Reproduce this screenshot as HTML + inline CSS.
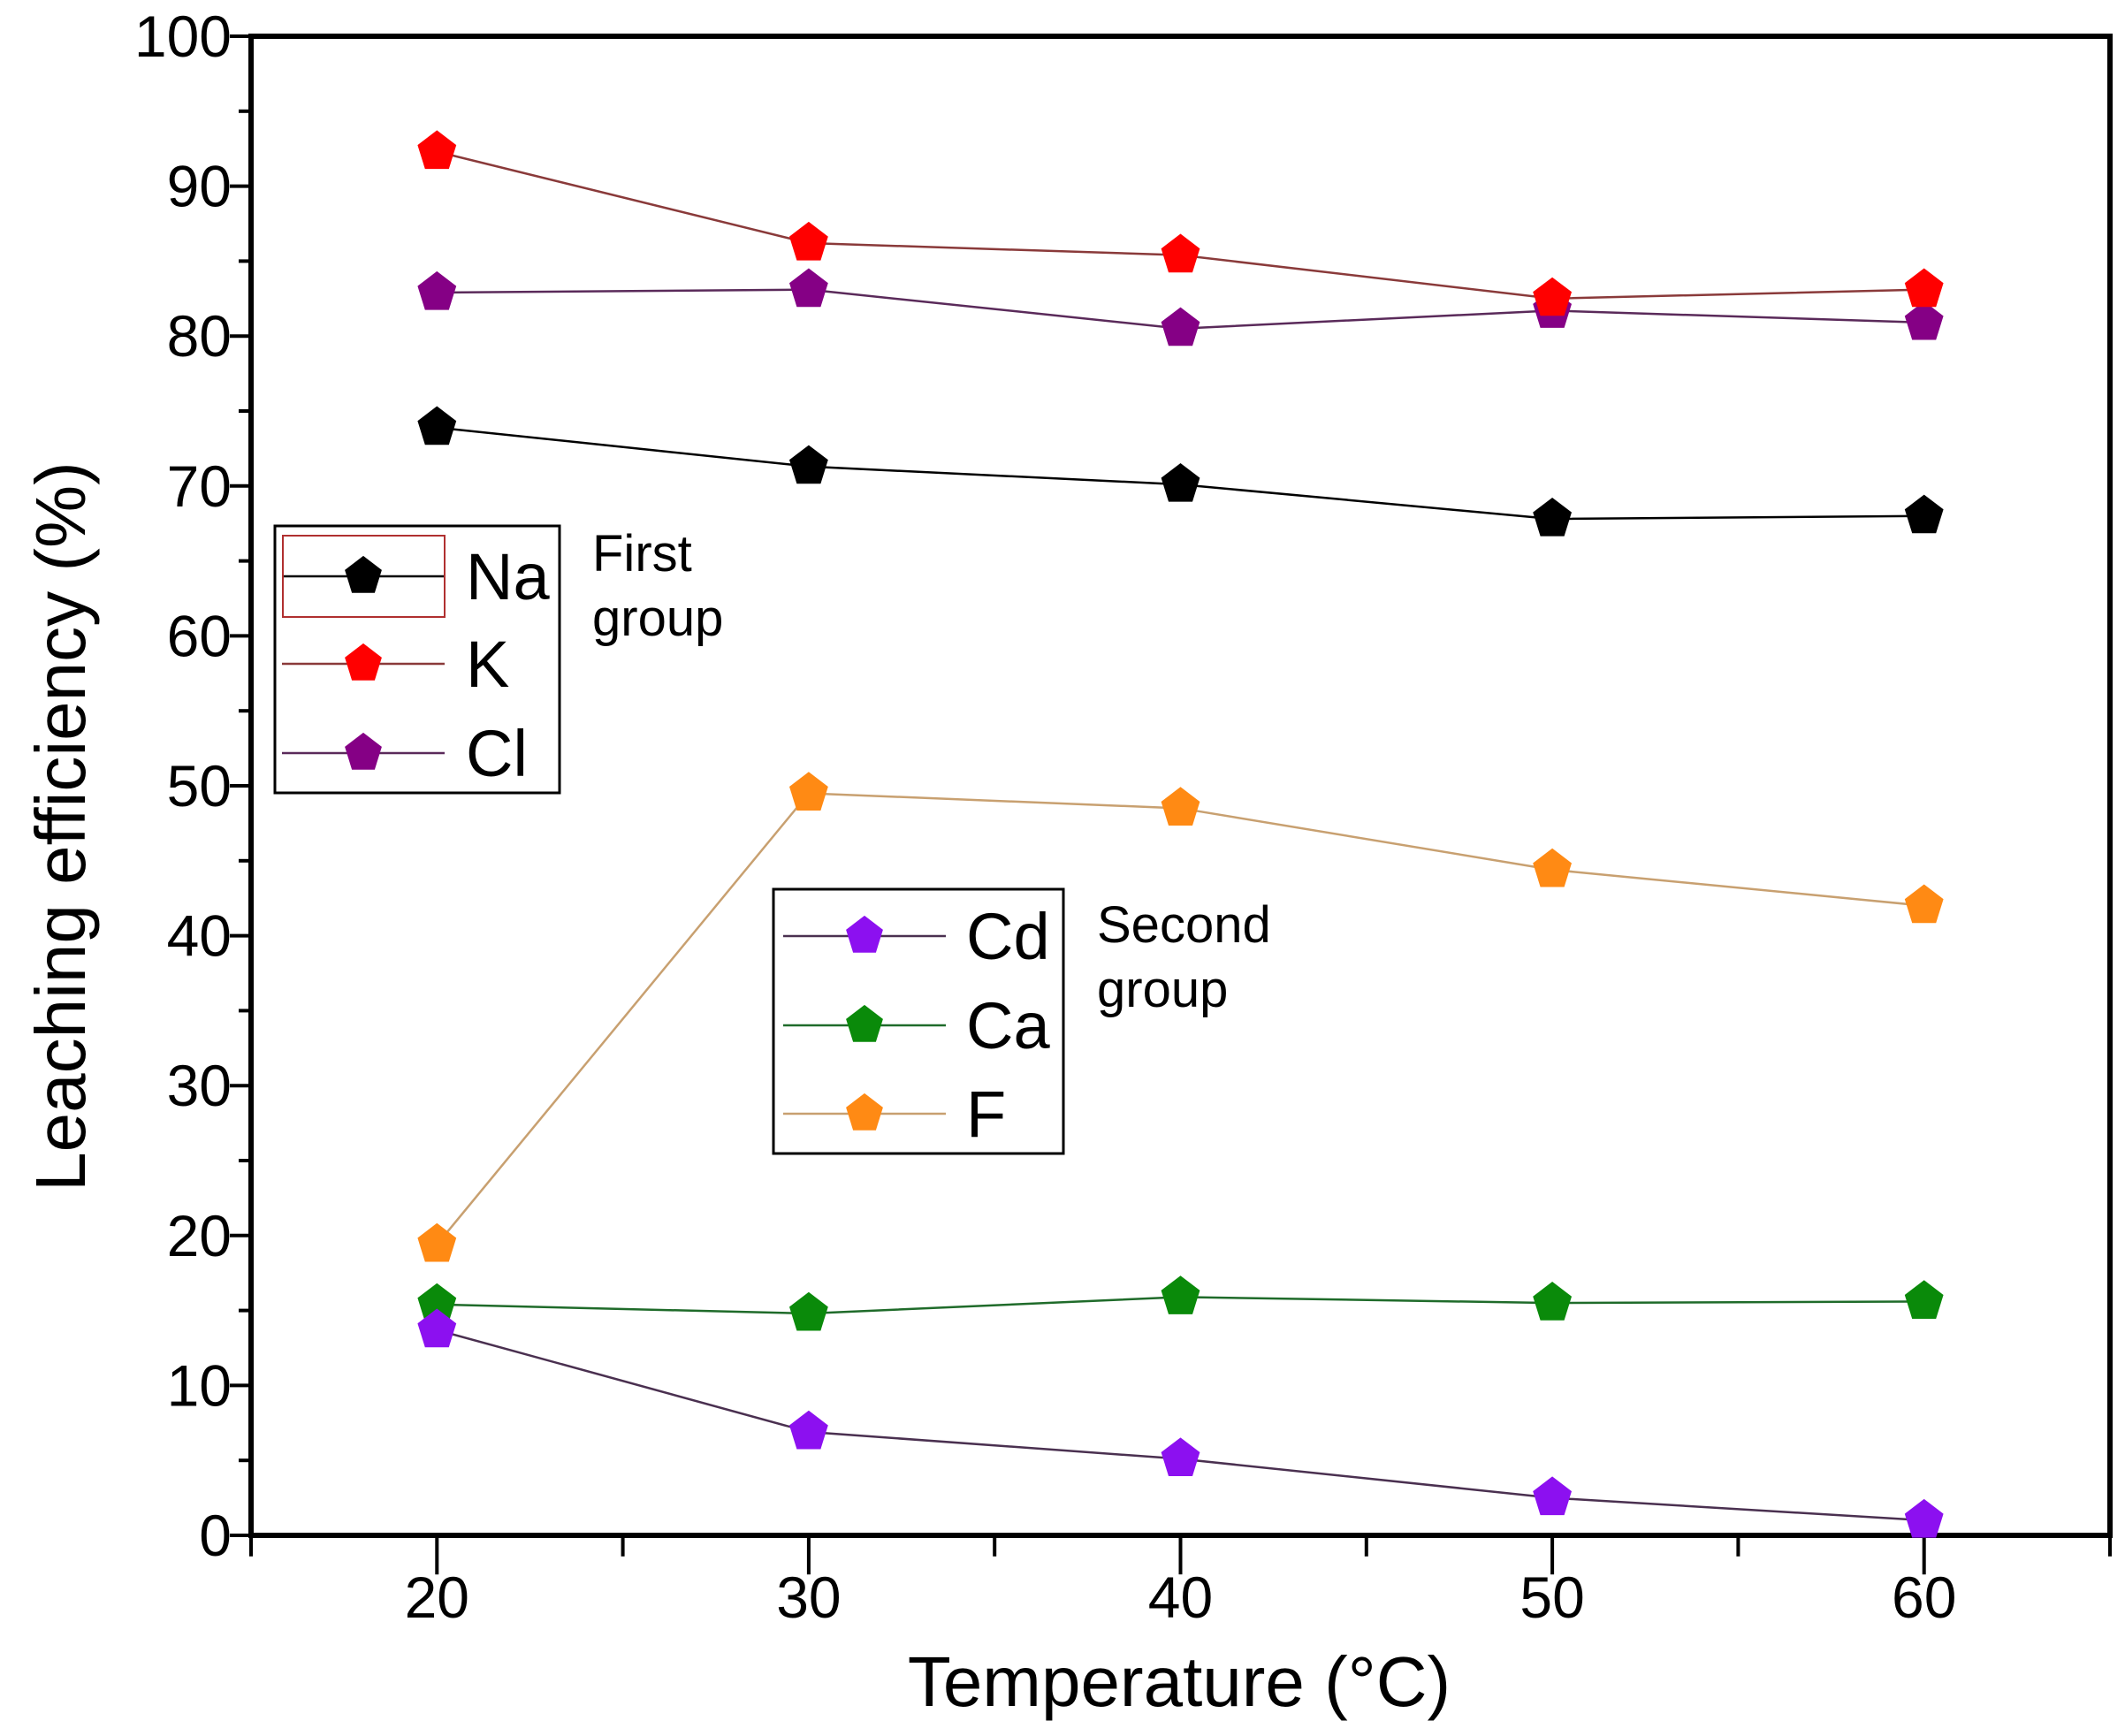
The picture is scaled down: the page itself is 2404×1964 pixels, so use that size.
<!DOCTYPE html>
<html><head><meta charset="utf-8"><style>
html,body{margin:0;padding:0;background:#fff;}
svg{display:block;font-family:"Liberation Sans",sans-serif;}
</style></head><body>
<svg id="chart" width="2404" height="1964" viewBox="0 0 2404 1964" xmlns="http://www.w3.org/2000/svg">
<g id="axes"></g>
<g id="series"></g>
<g id="legends"></g>
</svg>
<script>
const temps = [20, 30, 40, 50, 60];
const naValues = [73.9, 71.3, 70.1, 67.8, 68.0];
const kValues = [92.3, 86.2, 85.4, 82.5, 83.1];
const clValues = [82.9, 83.1, 80.5, 81.7, 80.9];
const cdValues = [13.7, 6.9, 5.1, 2.5, 1.0];
const caValues = [15.4, 14.8, 15.9, 15.5, 15.6];
const fValues = [19.4, 49.5, 48.5, 44.4, 42.0];
const yTickLabels = [0, 10, 20, 30, 40, 50, 60, 70, 80, 90, 100];
const xTickLabels = [20, 30, 40, 50, 60];

const NS = "http://www.w3.org/2000/svg";
const L = 284, R = 2387, T = 41, B = 1737;
const X0 = 15, X1 = 65, Y0 = 0, Y1 = 100;
function sx(v){ return L + (v - X0) / (X1 - X0) * (R - L); }
function sy(v){ return B - (v - Y0) / (Y1 - Y0) * (B - T); }
function mk(tag, attrs, parent){
  const e = document.createElementNS(NS, tag);
  for (const k in attrs) e.setAttribute(k, attrs[k]);
  parent.appendChild(e);
  return e;
}
const axes = document.getElementById('axes');
const series = document.getElementById('series');
const legends = document.getElementById('legends');

let fr = mk('rect', {x:L, y:T, width:R-L, height:B-T, fill:'none', stroke:'#000', 'stroke-width':6}, axes);



for (let v = 0; v <= 100; v += 5) {
  const major = v % 10 === 0;
  const t = mk('line', {x1:L, x2:L-(major?24:14), y1:sy(v), y2:sy(v), stroke:'#000', 'stroke-width':4}, axes);
  
  
}
yTickLabels.forEach(v => {
  const t = mk('text', {x:262, y:sy(v)+23, 'text-anchor':'end', 'font-size':66, fill:'#000'}, axes);
  t.textContent = v;
  
  
});
for (let v = 15; v <= 65; v += 5) {
  const major = v % 10 === 0;
  const t = mk('line', {x1:sx(v), x2:sx(v), y1:B, y2:B+(major?26:14)*1.7, stroke:'#000', 'stroke-width':4}, axes);
  
  
}
xTickLabels.forEach(v => {
  const t = mk('text', {x:sx(v), y:1830, 'text-anchor':'middle', 'font-size':66, fill:'#000'}, axes);
  t.textContent = v;
  
  
});
let xt = mk('text', {x:1334, y:1930, 'text-anchor':'middle', 'font-size':80, fill:'#000'}, axes);
xt.textContent = 'Temperature (°C)';


let yt = mk('text', {x:0, y:0, 'text-anchor':'middle', 'font-size':80, fill:'#000', transform:'translate(96,935) rotate(-90)'}, axes);
yt.textContent = 'Leaching efficiency (%)';



function pent(cx, cy, r){
  const p = [];
  for (let i = 0; i < 5; i++) {
    const a = -Math.PI/2 + i*2*Math.PI/5;
    p.push((cx + r*Math.cos(a)).toFixed(1) + ',' + (cy + r*Math.sin(a)*1.05).toFixed(1));
  }
  return p.join(' ');
}
const defs = [
  {name:'f', vals:fValues, fill:'#ff8a14', line:'#c8a070'},
  {name:'ca', vals:caValues, fill:'#0a8a0a', line:'#1f6b2a'},
  {name:'cd', vals:cdValues, fill:'#8c10f0', line:'#4a3050'},
  {name:'na', vals:naValues, fill:'#000000', line:'#000000'},
  {name:'cl', vals:clValues, fill:'#850085', line:'#5a2a5a'},
  {name:'k', vals:kValues, fill:'#ff0000', line:'#8a3a3a'}
];
defs.forEach(d => {
  const g = mk('g', {}, series);
  
  
  const pts = temps.map((t, i) => sx(t) + ',' + sy(d.vals[i])).join(' ');
  const pl = mk('polyline', {points:pts, fill:'none', stroke:d.line, 'stroke-width':2.5}, g);
  
  
  temps.forEach((t, i) => {
    const m = mk('polygon', {points:pent(sx(t), sy(d.vals[i]), 23), fill:d.fill}, g);
    
    
  });
});

function legend(box, entries, lineX1, lineX2, markX, textX, name){
  const g = mk('g', {}, legends);
  
  
  const r = mk('rect', {x:box[0], y:box[1], width:box[2], height:box[3], fill:'#fff', stroke:'#000', 'stroke-width':3}, g);
  
  
  entries.forEach(e => {
    const eg = mk('g', {}, g);
    
    
    mk('line', {x1:lineX1, x2:lineX2, y1:e.y, y2:e.y, stroke:e.line, 'stroke-width':2.5}, eg);
    mk('polygon', {points:pent(markX, e.y, 22), fill:e.fill}, eg);
    const t = mk('text', {x:textX, y:e.y+26, 'font-size':74, fill:'#000'}, eg);
    t.textContent = e.label;
  });
}
let rr = mk('rect', {x:320, y:606, width:183, height:92, fill:'none', stroke:'#b03030', 'stroke-width':2}, legends);
legend([311,595,322,302], [
  {label:'Na', y:652, fill:'#000', line:'#000'},
  {label:'K', y:751, fill:'#ff0000', line:'#8a3a3a'},
  {label:'Cl', y:852, fill:'#850085', line:'#5a2a5a'}
], 319, 503, 411, 527, 'legend-first-group');
legends.appendChild(rr);


legend([875,1006,328,299], [
  {label:'Cd', y:1059, fill:'#8c10f0', line:'#4a3050'},
  {label:'Ca', y:1160, fill:'#0a8a0a', line:'#1f6b2a'},
  {label:'F', y:1260, fill:'#ff8a14', line:'#c8a070'}
], 886, 1070, 978, 1093, 'legend-second-group');

[['First',670,646],['group',670,719],['Second',1241,1066],['group',1241,1139]].forEach((a,i) => {
  const t = mk('text', {x:a[1], y:a[2], 'font-size':58, fill:'#000'}, legends);
  t.textContent = a[0];
  
  
});
</script>
</body></html>
